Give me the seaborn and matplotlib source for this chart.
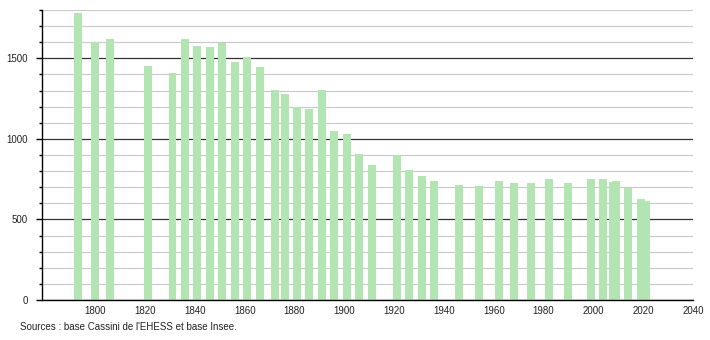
import matplotlib
matplotlib.use("Agg")
import matplotlib.pyplot as plt
import seaborn as sns
import pandas as pd
import numpy as np
from matplotlib.ticker import MultipleLocator

years = [1793, 1800, 1806, 1821, 1831, 1836, 1841, 1846, 1851, 1856, 1861, 1866,
         1872, 1876, 1881, 1886, 1891, 1896, 1901, 1906, 1911, 1921, 1926, 1931,
         1936, 1946, 1954, 1962, 1968, 1975, 1982, 1990, 1999, 2004, 2008, 2009,
         2014, 2019, 2021]
population = [1779, 1601, 1620, 1452, 1411, 1620, 1579, 1570, 1593, 1479, 1508, 1446,
              1303, 1279, 1196, 1188, 1303, 1049, 1030, 906, 838, 898, 807, 772,
              739, 714, 708, 739, 726, 726, 749, 726, 749, 753, 735, 737,
              696, 627, 614]
x_ticks = [1800, 1820, 1840, 1860, 1880, 1900, 1920, 1940, 1960, 1980, 2000, 2020, 2040]
y_ticks = [0, 500, 1000, 1500]
source_text = "Sources : base Cassini de l'EHESS et base Insee."

sns.set_theme(style="white")
plt.rcParams['font.family'] = ['Liberation Sans', 'DejaVu Sans']

df = pd.DataFrame({"year": years, "pop": population})

fig = plt.figure(figsize=(7.1, 3.4), dpi=100)
ax = fig.add_axes([42 / 710, 1 - 300 / 340, (693 - 42) / 710, 290 / 340])

min_gap = np.min(np.diff(sorted(years)))
sns.barplot(data=df, x="year", y="pop", native_scale=True, color="#b2e5b2",
            saturation=1, width=3.2 / min_gap, ax=ax, linewidth=0, zorder=3)

ax.set_xlim(1778.6, 2038.6)
ax.set_ylim(0, 1800)
ax.set_xticks(x_ticks)
ax.set_xticklabels([str(t) for t in x_ticks])
ax.set_yticks(y_ticks)
ax.set_yticklabels([str(t) for t in y_ticks])
ax.yaxis.set_minor_locator(MultipleLocator(100))

ax.yaxis.grid(True, which="minor", color="#c8c8c8", linewidth=0.8, zorder=1)
ax.yaxis.grid(True, which="major", color="#333333", linewidth=0.9, zorder=2)
ax.xaxis.grid(False)
ax.set_axisbelow(True)

for s in ["top", "right"]:
    ax.spines[s].set_visible(False)
for s in ["left", "bottom"]:
    ax.spines[s].set_color("black")
    ax.spines[s].set_linewidth(1)
    ax.spines[s].set_zorder(5)

ax.tick_params(axis="y", which="major", length=4, width=1, color="black",
               left=True, labelsize=7, pad=6, labelcolor="#222222")
ax.tick_params(axis="y", which="minor", length=2, width=1, color="black", left=True)
ax.tick_params(axis="x", which="both", length=0, labelsize=7, pad=4, labelcolor="#222222")
ax.set_xlabel("")
ax.set_ylabel("")

fig.text(20 / 710, 1 - 327 / 340, source_text, fontsize=7, color="#222222",
         ha="left", va="center")

fig.savefig("out.png", dpi=100)
